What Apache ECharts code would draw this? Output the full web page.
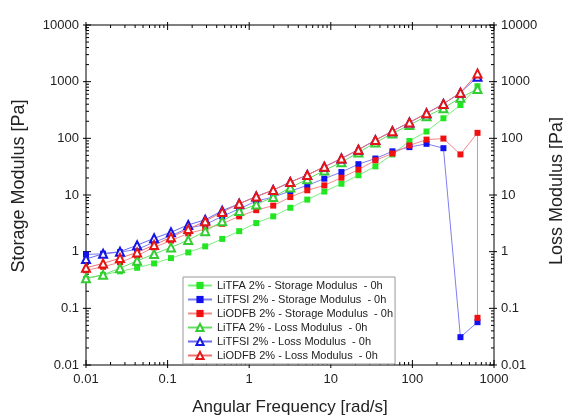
<!DOCTYPE html>
<html>
<head>
<meta charset="utf-8">
<script src="https://cdn.jsdelivr.net/npm/echarts@6/dist/echarts.min.js"></script>
<style>
html,body{margin:0;padding:0;background:#fff;}
#chart{width:563px;height:419px;}
</style>
</head>
<body>
<div id="chart"></div>
<script>
// angular frequency [rad/s], 24 log-spaced points
var freq = [0.01, 0.0162, 0.0261, 0.0423, 0.0683, 0.110, 0.179, 0.289, 0.467, 0.754, 1.22, 1.97,
            3.19, 5.15, 8.33, 13.5, 21.8, 35.2, 56.9, 91.9, 149, 240, 388, 628];
// LiODFB storage has a second reading at the last frequency
var freqODFB = freq.concat([628]);

var storageLiTFA  = [0.33, 0.39, 0.45, 0.52, 0.62, 0.77, 0.97, 1.24, 1.68, 2.3, 3.2, 4.2,
                     5.95, 8.3, 11.5, 15.8, 22.3, 32, 52, 90, 132, 226, 387, 830];
var storageLiTFSI = [0.89, 0.92, 0.98, 1.1, 1.46, 1.92, 2.6, 3.0, 4.2, 5.7, 7.8, 9.2,
                     11.7, 14.8, 19.4, 25.4, 35, 44, 59, 70, 80, 67, 0.031, 0.057];
var storageLiODFB = [0.47, 0.54, 0.65, 0.85, 1.19, 1.57, 2.1, 2.5, 3.1, 4.2, 5.4, 6.5,
                     9.2, 12.1, 14.8, 20.2, 28, 41, 54, 75, 95, 99, 52, 125, 0.068];
var lossLiTFA     = [0.34, 0.39, 0.51, 0.69, 0.91, 1.19, 1.6, 2.3, 3.45, 5.2, 6.8, 9.2,
                     13.5, 19, 27, 38, 56, 84, 122, 172, 245, 340, 520, 740];
var lossLiTFSI    = [0.74, 0.92, 1.0, 1.3, 1.72, 2.2, 2.97, 3.65, 5.3, 7.0, 9.4, 12.2,
                     16.9, 22.5, 31.5, 44, 63, 93, 134, 191, 276, 405, 640, 1220];
var lossLiODFB    = [0.52, 0.62, 0.77, 0.97, 1.31, 1.8, 2.5, 3.45, 5.0, 7.0, 9.4, 12.2,
                     16.9, 22.5, 31.5, 44, 63, 93, 134, 191, 276, 405, 640, 1400];

var seriesNames = [
    'LiTFA 2% - Storage Modulus  - 0h',
    'LiTFSI 2% - Storage Modulus  - 0h',
    'LiODFB 2% - Storage Modulus  - 0h',
    'LiTFA 2% - Loss Modulus  - 0h',
    'LiTFSI 2% - Loss Modulus  - 0h',
    'LiODFB 2% - Loss Modulus  - 0h'
];

var xMin = 0.01, xMax = 1000, yMin = 0.01, yMax = 10000;
var fontFam = '"Liberation Sans", Arial, sans-serif';

function pairs(xs, ys){
    return ys.map(function(v, i){ return [xs[i], v]; });
}

// tick positions for the hand drawn log ticks (decades + 2..9 minors)
function logTicks(lo, hi, isY){
    var out = [];
    for (var e = Math.round(Math.log10(lo)); e <= Math.round(Math.log10(hi)); e++){
        var base = Math.pow(10, e);
        for (var m = 1; m <= 9; m++){
            var v = +(m * base).toPrecision(3);
            if (v > hi * 1.0001) break;
            out.push([v, v, isY ? 1 : 0, m === 1 ? 1 : 0]);
        }
    }
    return out;
}
var tickData = logTicks(xMin, xMax, false).concat(logTicks(yMin, yMax, true));

function renderTick(params, api){
    var v = api.value(0), isY = api.value(2), major = api.value(3);
    var lin = major ? 5 : 3, lout = major ? 3 : 0;
    var segs = [];
    if (!isY){
        var b = api.coord([v, yMin]), t = api.coord([v, yMax]);
        segs.push([b[0], b[1] + lout, b[0], b[1] - lin]);
        segs.push([t[0], t[1] - lout, t[0], t[1] + lin]);
    } else {
        var l = api.coord([xMin, v]), r = api.coord([xMax, v]);
        segs.push([l[0] - lout, l[1], l[0] + lin, l[1]]);
        segs.push([r[0] + lout, r[1], r[0] - lin, r[1]]);
    }
    return {
        type: 'group',
        children: segs.map(function(s){
            return {type: 'line', shape: {x1: s[0], y1: s[1], x2: s[2], y2: s[3]},
                    style: {stroke: '#000', lineWidth: 1}};
        })
    };
}

function storage(name, xs, ys, color, lineColor){
    return {
        name: name, type: 'line', data: pairs(xs, ys),
        symbol: 'rect', symbolSize: 6,
        itemStyle: {color: color},
        lineStyle: {color: lineColor, width: 1},
        z: 3
    };
}
function loss(name, ys, color, lineColor){
    return {
        name: name, type: 'line', data: pairs(freq, ys),
        symbol: 'emptyTriangle', symbolSize: 8,
        itemStyle: {color: color, borderColor: color, borderWidth: 1.3},
        lineStyle: {color: lineColor, width: 1},
        z: 4
    };
}

var labelFmt = function(v){ return String(+(+v).toPrecision(3)); };

var myChart = echarts.init(document.getElementById('chart'));
myChart.setOption({
    animation: false,
    backgroundColor: '#fff',
    textStyle: {fontFamily: fontFam},
    grid: {left: 86, right: 69, top: 25, bottom: 54, show: true, outerBoundsMode: 'none',
           containLabel: false,
           borderColor: '#000', borderWidth: 1, backgroundColor: 'transparent'},
    legend: {
        data: seriesNames, z: 20,
        orient: 'vertical', left: 183, top: 277,
        itemWidth: 24, itemHeight: 9, itemGap: 1,
        padding: [2, 2, 2, 4],
        borderColor: '#999', borderWidth: 1, backgroundColor: '#fff',
        textStyle: {fontSize: 11, lineHeight: 13, color: '#222', fontFamily: fontFam}
    },
    xAxis: {
        type: 'log', min: xMin, max: xMax, logBase: 10, splitNumber: 5,
        name: 'Angular Frequency [rad/s]', nameLocation: 'middle', nameGap: 34,
        nameTextStyle: {fontSize: 17, color: '#222', fontFamily: fontFam},
        axisLine: {show: false}, axisTick: {show: false}, splitLine: {show: false},
        axisLabel: {fontSize: 13, color: '#222', margin: 8, formatter: labelFmt, fontFamily: fontFam}
    },
    yAxis: [{
        type: 'log', min: yMin, max: yMax, logBase: 10, splitNumber: 6,
        name: 'Storage Modulus [Pa]', nameLocation: 'middle', nameGap: 58,
        nameTextStyle: {fontSize: 18, color: '#222', fontFamily: fontFam, padding: [0, 0, 0, 18]},
        axisLine: {show: false}, axisTick: {show: false}, splitLine: {show: false},
        axisLabel: {fontSize: 13, color: '#222', margin: 7, formatter: labelFmt, fontFamily: fontFam}
    }, {
        type: 'log', min: yMin, max: yMax, logBase: 10, splitNumber: 6, position: 'right',
        name: 'Loss Modulus [Pa]', nameLocation: 'middle', nameGap: 52, nameRotate: 90,
        nameTextStyle: {fontSize: 18, color: '#222', fontFamily: fontFam, padding: [0, 0, 0, 8]},
        axisLine: {show: false}, axisTick: {show: false}, splitLine: {show: false},
        axisLabel: {fontSize: 13, color: '#222', margin: 7, formatter: labelFmt, fontFamily: fontFam}
    }],
    series: [
        storage(seriesNames[0], freq, storageLiTFA, '#22e622', '#7af07a'),
        storage(seriesNames[1], freq, storageLiTFSI, '#1010f0', '#7f7ff5'),
        storage(seriesNames[2], freqODFB, storageLiODFB, '#f01010', '#f58a8a'),
        loss(seriesNames[3], lossLiTFA, '#33cc33', '#66dd66'),
        loss(seriesNames[4], lossLiTFSI, '#1515e6', '#6a6af0'),
        loss(seriesNames[5], lossLiODFB, '#e61515', '#f07070'),
        {
            type: 'custom', name: 'ticks', data: tickData, renderItem: renderTick,
            silent: true, clip: false, z: 2
        }
    ]
});
window.addEventListener('resize', function(){ myChart.resize(); });
</script>
</body>
</html>
